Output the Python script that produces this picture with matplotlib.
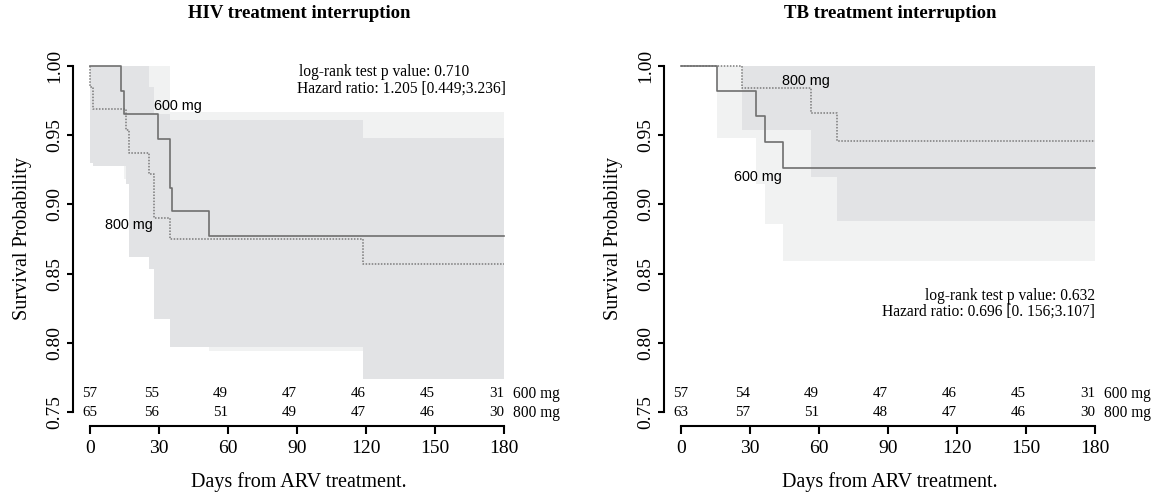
import matplotlib.pyplot as plt

plt.rcParams['font.family'] = ['Liberation Serif', 'DejaVu Serif']

# ---- data -------------------------------------------------------------
risk_times = [0, 30, 60, 90, 120, 150, 180]
groups = ['600 mg', '800 mg']

# HIV treatment interruption: KM steps and confidence bands
hiv_600_t = [0, 13.5, 14.8, 29.7, 34.9, 35.6, 51.7, 180]
hiv_600_s = [1.0, 0.982, 0.965, 0.947, 0.912, 0.895, 0.877, 0.877]
hiv_600_lo = [1.0, 0.950, 0.918, 0.890, 0.840, 0.818, 0.794, 0.794]
hiv_600_up = [1.0, 1.0, 1.0, 1.0, 0.967, 0.967, 0.967, 0.967]

hiv_800_t = [0, 0, 1.3, 15.5, 16.9, 25.6, 27.7, 34.9, 118.8, 180]
hiv_800_s = [1.0, 0.985, 0.969, 0.954, 0.937, 0.922, 0.890, 0.875, 0.857, 0.857]
hiv_800_lo = [1.0, 0.930, 0.928, 0.915, 0.862, 0.853, 0.817, 0.797, 0.774, 0.774]
hiv_800_up = [1.0, 1.0, 1.0, 1.0, 1.0, 0.985, 0.965, 0.961, 0.948, 0.948]

hiv_risk_600 = [57, 55, 49, 47, 46, 45, 31]
hiv_risk_800 = [65, 56, 51, 49, 47, 46, 30]

# TB treatment interruption
tb_600_t = [0, 15.5, 32.5, 36.4, 44.5, 180]
tb_600_s = [1.0, 0.982, 0.964, 0.945, 0.926, 0.926]
tb_600_lo = [1.0, 0.948, 0.915, 0.886, 0.859, 0.859]
tb_600_up = [1.0, 1.0, 1.0, 1.0, 0.99, 0.99]

tb_800_t = [0, 26.4, 56.5, 67.7, 180]
tb_800_s = [1.0, 0.984, 0.966, 0.946, 0.946]
tb_800_lo = [1.0, 0.954, 0.920, 0.888, 0.888]
tb_800_up = [1.0, 1.0, 1.0, 1.0, 1.0]

tb_risk_600 = [57, 54, 49, 47, 46, 45, 31]
tb_risk_800 = [63, 57, 51, 48, 47, 46, 30]

W, H = 1154, 495
fig = plt.figure(figsize=(W / 100, H / 100), dpi=100)

LIGHT = '#f1f2f2'
MEDIUM = '#e2e3e5'
LINE = '#6f6f6f'


def make_axes(x0, x180, y100, y075):
    # place axes so that data 0/180 and 1.00/0.75 land on given pixels
    ppd = (x180 - x0) / 180
    ppy = (y075 - y100) / 0.25
    left = x0 - 7.2 * ppd
    right = x180 + 7.2 * ppd
    top = y100 - 0.01 * ppy
    bottom = y075 + 0.01 * ppy
    ax = fig.add_axes([left / W, 1 - bottom / H, (right - left) / W, (bottom - top) / H])
    ax.set_xlim(-7.2, 187.2)
    ax.set_ylim(0.74, 1.01)
    return ax, (left, right, top, bottom)


def draw_panel(ax, box, title, c600, c800, risk600, risk800):
    t6, s6, lo6, up6 = c600
    t8, s8, lo8, up8 = c800
    ax.fill_between(t6, lo6, up6, step='post', color=LIGHT, lw=0, zorder=1)
    ax.fill_between(t8, lo8, up8, step='post', color=MEDIUM, lw=0, zorder=2)
    ax.step(t6, s6, where='post', color=LINE, lw=1.2, zorder=4)
    ax.step(t8, s8, where='post', color='#7a7a7a', lw=1.1,
            linestyle=(0, (1, 1)), zorder=3)

    for sp in ['top', 'right']:
        ax.spines[sp].set_visible(False)
    ax.spines['left'].set_bounds(0.75, 1.0)
    ax.spines['bottom'].set_bounds(0, 180)
    for sp in ['left', 'bottom']:
        ax.spines[sp].set_linewidth(1.5)
    ax.set_xticks(risk_times)
    ax.set_yticks([0.75, 0.80, 0.85, 0.90, 0.95, 1.00])
    ax.set_yticklabels(['0.75', '0.80', '0.85', '0.90', '0.95', '1.00'],
                       rotation=90, va='center')
    ax.tick_params(axis='x', length=6, width=1.5, labelsize=14, pad=4)
    ax.tick_params(axis='y', length=4, width=1.5, labelsize=14, pad=3)
    ax.patch.set_alpha(0)

    # numbers at risk
    for rows, yv in ((risk600, 0.7632), (risk800, 0.7493)):
        for i, (t, n) in enumerate(zip(risk_times, rows)):
            ax.text(t, yv, str(n), ha='center' if i == 0 else 'right',
                    va='center', fontsize=10.8, clip_on=False)
    for g, yv in zip(groups, (0.7632, 0.7493)):
        ax.text(184, yv, g, ha='left', va='center', fontsize=11.2, clip_on=False)

    left, right, top, bottom = box
    cx = (left + right) / 2 + 2
    fig.text(cx / W, 1 - 14 / H, title, ha='center', va='center',
             fontsize=13.5, fontweight='bold')
    fig.text(cx / W, 1 - 482 / H, 'Days from ARV treatment.', ha='center',
             va='center', fontsize=14.5)
    fig.text((left - 51) / W, 1 - 239 / H, 'Survival Probability', ha='center',
             va='center', rotation=90, fontsize=14.5)


ax1, box1 = make_axes(90, 504, 66, 412)
draw_panel(ax1, box1, 'HIV treatment interruption',
           (hiv_600_t, hiv_600_s, hiv_600_lo, hiv_600_up),
           (hiv_800_t, hiv_800_s, hiv_800_lo, hiv_800_up),
           hiv_risk_600, hiv_risk_800)
ax1.text(38.3, 0.971, '600 mg', family='Liberation Sans', fontsize=10.4,
         ha='center', va='center', zorder=5)
ax1.text(17, 0.885, '800 mg', family='Liberation Sans', fontsize=10.4,
         ha='center', va='center', zorder=5)
ax1.text(91, 0.9959, 'log-rank test p value: 0.710', fontsize=11.2,
         ha='left', va='center')
ax1.text(90, 0.9839, 'Hazard ratio: 1.205 [0.449;3.236]', fontsize=11.2,
         ha='left', va='center')

ax2, box2 = make_axes(681, 1095, 66, 412)
draw_panel(ax2, box2, 'TB treatment interruption',
           (tb_600_t, tb_600_s, tb_600_lo, tb_600_up),
           (tb_800_t, tb_800_s, tb_800_lo, tb_800_up),
           tb_risk_600, tb_risk_800)
ax2.text(33.4, 0.920, '600 mg', family='Liberation Sans', fontsize=10.4,
         ha='center', va='center', zorder=5)
ax2.text(54.3, 0.989, '800 mg', family='Liberation Sans', fontsize=10.4,
         ha='center', va='center', zorder=5)
ax2.text(180, 0.8335, 'log-rank test p value: 0.632', fontsize=11.2,
         ha='right', va='center')
ax2.text(180, 0.8224, 'Hazard ratio: 0.696 [0. 156;3.107]', fontsize=11.2,
         ha='right', va='center')

fig.savefig('out.png', dpi=100)
